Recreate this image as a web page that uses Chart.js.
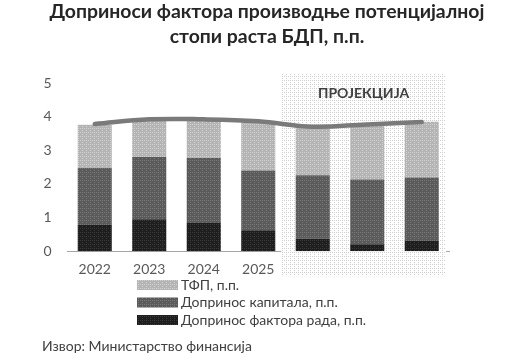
<!DOCTYPE html>
<html>
<head>
<meta charset="utf-8">
<script src="https://cdn.jsdelivr.net/npm/chart.js@4.4.1/dist/chart.umd.min.js"></script>
<style>
  html, body { margin: 0; padding: 0; background: #fff; }
  #wrap { width: 531px; height: 363px; position: relative; }
</style>
</head>
<body>
<div id="wrap"><canvas id="myChart" width="531" height="363"></canvas></div>
<script>
// podaci ocitani sa slike
const godine = ['2022', '2023', '2024', '2025', '2026', '2027', '2028'];
const rad = [0.78, 0.95, 0.84, 0.62, 0.37, 0.21, 0.30];
const kapital = [1.69, 1.85, 1.93, 1.78, 1.89, 1.92, 1.89];
const tfp = [1.29, 1.10, 1.13, 1.45, 1.42, 1.62, 1.66];
const ukupno = [3.78, 3.92, 3.92, 3.86, 3.70, 3.77, 3.84];
const yTicks = [0, 1, 2, 3, 4, 5];
const nazivi = ['Допринос фактора рада, п.п.', 'Допринос капитала, п.п.', 'ТФП, п.п.'];
const naslov = ['Доприноси фактора производње потенцијалној', 'стопи раста БДП, п.п.'];

const FONT = 'Lato, "Open Sans", sans-serif';

// sitni rasterski uzorak kao u originalu
function uzorak(c1, c2) {
    const p = document.createElement('canvas');
    p.width = 4; p.height = 4;
    const g = p.getContext('2d');
    g.fillStyle = c1;
    g.fillRect(0, 0, 4, 4);
    g.fillStyle = c2;
    g.fillRect(0, 0, 1, 1);
    g.fillRect(2, 2, 1, 1);
    g.fillRect(2, 0, 1, 1);
    return g.createPattern(p, 'repeat');
}

const bojaRad = uzorak('#1e1e1e', '#3a3a3a');
const bojaKap = uzorak('#5a5a5a', '#7a7a7a');
const bojaTfp = uzorak('#b4b4b4', '#d2d2d2');
const bojaProj = uzorak('#ffffff', '#cfcfcf');

// pozadina "ПРОЈЕКЦИЈА"
const projekcija = {
    id: 'projekcija',
    beforeDatasetsDraw(chart) {
        const { ctx, chartArea, scales } = chart;
        const x = scales.x;
        const y = scales.y;
        const sirina = x.getPixelForValue(1) - x.getPixelForValue(0);
        const levo = (x.getPixelForValue(3) + x.getPixelForValue(4)) / 2 - sirina * 0.08;
        const desno = chartArea.right - 3;
        const gore = y.getPixelForValue(5) - 10;
        const dole = chartArea.bottom + 25;
        ctx.save();
        ctx.fillStyle = bojaProj;
        ctx.fillRect(levo, gore, desno - levo, dole - gore);
        ctx.fillStyle = '#404040';
        ctx.font = 'bold 14px ' + FONT;
        ctx.textAlign = 'center';
        ctx.textBaseline = 'middle';
        ctx.fillText('ПРОЈЕКЦИЈА', (levo + desno) / 2, gore + 20);
        ctx.restore();
    }
};

// naslov, legenda jedna ispod druge i izvor
const tekstovi = {
    id: 'tekstovi',
    afterDraw(chart) {
        const { ctx } = chart;
        ctx.save();
        ctx.fillStyle = '#262626';
        ctx.textAlign = 'center';
        ctx.textBaseline = 'middle';
        ctx.font = 'bold 17px ' + FONT;
        const w = ctx.measureText(naslov[0]).width;
        const vel = 17 * 436 / w;
        ctx.font = 'bold ' + vel.toFixed(1) + 'px ' + FONT;
        ctx.fillText(naslov[0], 267, 12);
        ctx.fillText(naslov[1], 267, 37);

        const stavke = [2, 1, 0];
        ctx.textAlign = 'left';
        ctx.font = '14px ' + FONT;
        stavke.forEach((i, k) => {
            const yy = 285 + k * 17.5;
            ctx.fillStyle = chart.data.datasets[i].backgroundColor;
            ctx.fillRect(137, yy - 5, 41, 10);
            ctx.fillStyle = '#404040';
            ctx.fillText(chart.data.datasets[i].label, 181, yy);
        });
        ctx.fillText('Извор: Министарство финансија', 42, 346);
        ctx.restore();
    }
};

const ctx = document.getElementById('myChart').getContext('2d');
const myChart = new Chart(ctx, {
    type: 'bar',
    data: {
        labels: godine,
        datasets: [
            { label: nazivi[0], data: rad, backgroundColor: bojaRad, stack: 's', order: 2 },
            { label: nazivi[1], data: kapital, backgroundColor: bojaKap, stack: 's', order: 2 },
            { label: nazivi[2], data: tfp, backgroundColor: bojaTfp, stack: 's', order: 2 },
            {
                type: 'line', label: 'Укупно', data: ukupno, borderColor: '#7a7a7a',
                borderWidth: 4.5, pointRadius: 0, tension: 0.4, order: 1, borderCapStyle: 'round'
            }
        ]
    },
    options: {
        responsive: false,
        animation: false,
        categoryPercentage: 1,
        barPercentage: 0.625,
        layout: { padding: { left: 0, right: 82, top: 83, bottom: 75 } },
        plugins: {
            legend: { display: false },
            tooltip: { enabled: false },
            title: { display: false }
        },
        scales: {
            x: {
                stacked: true,
                grid: { display: false, drawTicks: false },
                border: { color: '#a6a6a6', width: 1 },
                ticks: { color: '#595959', font: { family: FONT, size: 14 }, padding: 10 }
            },
            y: {
                stacked: true,
                min: 0,
                max: 5,
                afterBuildTicks(s) { s.ticks = yTicks.map(v => ({ value: v })); },
                afterFit(s) { s.width = 67.5; },
                grid: { display: false, drawTicks: false },
                border: { display: false },
                ticks: { color: '#595959', font: { family: FONT, size: 14 }, padding: 16 }
            }
        }
    },
    plugins: [projekcija, tekstovi]
});
</script>
</body>
</html>
